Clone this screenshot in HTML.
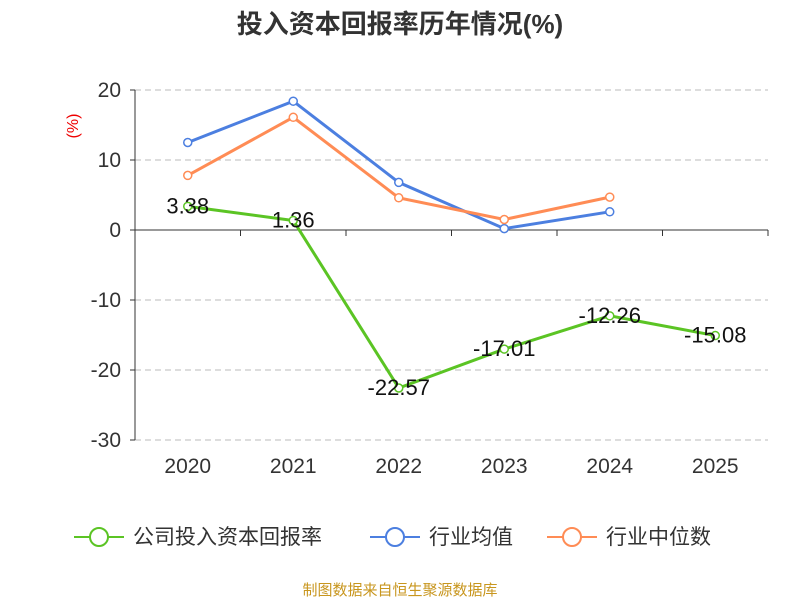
<!DOCTYPE html>
<html><head><meta charset="utf-8"><style>
body{margin:0;background:#fff;width:800px;height:600px;overflow:hidden;font-family:"Liberation Sans","Noto Sans CJK SC",sans-serif}
</style></head><body>
<svg width="800" height="600" id="chart" font-family="Liberation Sans, Noto Sans CJK SC, sans-serif">
<text x="400" y="33" text-anchor="middle" font-size="26" font-weight="bold" fill="#333">投入资本回报率历年情况(%)</text>
<text x="78" y="126" font-size="16" fill="#e00" transform="rotate(-90 78 126)" text-anchor="middle">(%)</text>
<g id="grid"></g><g id="series"></g>
<g font-size="21" fill="#333">
<g><line x1="74" y1="537" x2="124" y2="537" stroke="#5bc424" stroke-width="2"/><circle cx="99" cy="537" r="9" fill="#fff" stroke="#5bc424" stroke-width="2"/><text x="133" y="544">公司投入资本回报率</text></g>
<g><line x1="370" y1="537" x2="420" y2="537" stroke="#4c7fe0" stroke-width="2"/><circle cx="395" cy="537" r="9" fill="#fff" stroke="#4c7fe0" stroke-width="2"/><text x="429" y="544">行业均值</text></g>
<g><line x1="547" y1="537" x2="597" y2="537" stroke="#ff8c55" stroke-width="2"/><circle cx="572" cy="537" r="9" fill="#fff" stroke="#ff8c55" stroke-width="2"/><text x="606" y="544">行业中位数</text></g>
</g>
<text x="400" y="595" text-anchor="middle" font-size="15" fill="#c8961e">制图数据来自恒生聚源数据库</text>
</svg>
<script>
const categories=["2020","2021","2022","2023","2024","2025"];
const company=[3.38,1.36,-22.57,-17.01,-12.26,-15.08];
const industryAvg=[12.5,18.4,6.8,0.2,2.6];
const industryMedian=[7.8,16.1,4.6,1.5,4.7];
const yTicks=[20,10,0,-10,-20,-30];
const NS="http://www.w3.org/2000/svg";
const x0=135,x1=768,step=(x1-x0)/categories.length;
const X=i=>x0+step*(i+0.5);
const Y=v=>230-v*7;
function mk(t,a,p){const e=document.createElementNS(NS,t);for(const k in a)e.setAttribute(k,a[k]);p.appendChild(e);return e;}
const g=document.getElementById('grid'),s=document.getElementById('series');
yTicks.forEach(v=>{
 if(v!==0){const l=mk('line',{x1:x0,x2:x1,y1:Y(v),y2:Y(v),stroke:'#bbb','stroke-dasharray':'6,4'},g);
 
 }
 mk('line',{x1:x0-5,x2:x0,y1:Y(v),y2:Y(v),stroke:'#333'},g);
 const t=mk('text',{x:x0-14,y:Y(v)+7,'text-anchor':'end','font-size':21,fill:'#333'},g);t.textContent=v;
 
 
});
mk('line',{x1:x0,x2:x0,y1:Y(20),y2:Y(-30),stroke:'#333'},g);
mk('line',{x1:x0,x2:x1,y1:Y(0),y2:Y(0),stroke:'#333'},g);
categories.forEach((c,i)=>{
 mk('line',{x1:x0+step*(i+1),x2:x0+step*(i+1),y1:Y(0),y2:Y(0)+6,stroke:'#333'},g);
 const t=mk('text',{x:X(i),y:473,'text-anchor':'middle','font-size':21,fill:'#333'},g);t.textContent=c;
 
 
});
function series(d,col,name,labels){
 const p=mk('polyline',{points:d.map((v,i)=>X(i)+','+Y(v)).join(' '),fill:'none',stroke:col,'stroke-width':3},s);
 
 
 d.forEach((v,i)=>{
  const c=mk('circle',{cx:X(i),cy:Y(v),r:4,fill:'#fff',stroke:col,'stroke-width':1.5},s);
  
  
  if(labels){const t=mk('text',{x:X(i),y:Y(v)+7,'text-anchor':'middle','font-size':22,fill:'#111'},s);t.textContent=v.toFixed(2);
  
  }
 });
}
series(industryAvg,'#4c7fe0','industry-avg',false);
series(industryMedian,'#ff8c55','industry-median',false);
series(company,'#5bc424','company',true);
</script>
</body></html>
